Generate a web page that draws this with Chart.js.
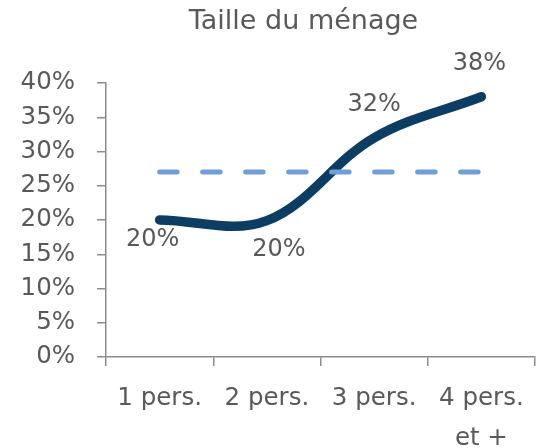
<!DOCTYPE html>
<html lang="fr">
<head>
<meta charset="utf-8">
<title>Taille du ménage</title>
<script src="https://cdn.jsdelivr.net/npm/chart.js@4.4.1/dist/chart.umd.min.js"></script>
<style>
  html, body { margin: 0; padding: 0; background: #ffffff; }
  #wrap { position: relative; width: 538px; height: 448px; }
</style>
</head>
<body>
<div id="wrap"><canvas id="sizeChart"></canvas></div>
<script>
// ─── Data ──────────────────────────────────────────────────────────────────────
const categories   = ["1 pers.", "2 pers.", "3 pers.", ["4 pers.", "et +"]];
const shareValues  = [20.0, 19.9, 32.0, 38.0];
const averageValue = [27, 27, 27, 27];
const yTicks       = { min: 0, max: 40, step: 5 };
const chartTitle   = "Taille du ménage";

// ─── Style ─────────────────────────────────────────────────────────────────────
const FONT      = "'DejaVu Sans', sans-serif";
const TEXT      = "#595959";
const AXIS      = "#8c8c8c";
const NAVY      = "#0c3e64";
const DASH_BLUE = "#719dd8";

// label offsets from each point (dx, dy), as placed in the original
const labelOffsets = [[-7, 20], [12, 29], [0, -33], [-2, -33]];

const pointLabels = {
  id: "pointLabels",
  afterDatasetsDraw(chart) {
    const meta = chart.getDatasetMeta(1);
    const { ctx } = chart;
    ctx.save();
    ctx.font = "24px " + FONT;
    ctx.fillStyle = TEXT;
    ctx.textAlign = "center";
    ctx.textBaseline = "middle";
    meta.data.forEach((pt, i) => {
      const [dx, dy] = labelOffsets[i];
      ctx.fillText(Math.round(shareValues[i]) + "%", pt.x + dx, pt.y + dy);
    });
    ctx.restore();
  }
};

// title sits a little left of the plot centre in the original
const offsetTitle = {
  id: "offsetTitle",
  afterDraw(chart) {
    const { ctx, chartArea } = chart;
    ctx.save();
    ctx.font = "27px " + FONT;
    ctx.fillStyle = TEXT;
    ctx.textAlign = "center";
    ctx.textBaseline = "middle";
    ctx.fillText(chartTitle, (chartArea.left + chartArea.right) / 2 - 17, 22);
    ctx.restore();
  }
};

new Chart(document.getElementById("sizeChart"), {
  type: "line",
  data: {
    labels: categories,
    datasets: [
      {
        label: "Moyenne",
        data: averageValue,
        borderColor: DASH_BLUE,
        borderWidth: 5,
        borderDash: [17.5, 25.5],
        borderCapStyle: "round",
        pointRadius: 0,
        tension: 0,
        fill: false,
        order: 0,
      },
      {
        label: "Taille du ménage",
        data: shareValues,
        borderColor: NAVY,
        borderWidth: 9.5,
        borderCapStyle: "round",
        borderJoinStyle: "round",
        pointRadius: 0,
        tension: 0.36,
        fill: false,
        order: 1,
      }
    ]
  },
  options: {
    responsive: true,
    maintainAspectRatio: false,
    animation: false,
    layout: { padding: { left: 0, right: 3, top: 83, bottom: 0 } },
    plugins: {
      legend: { display: false },
      tooltip: { enabled: false },
      title: { display: false }
    },
    scales: {
      x: {
        offset: true,
        grid: { offset: true, drawOnChartArea: false, tickLength: 9, color: AXIS, lineWidth: 1.5 },
        border: { color: AXIS, width: 1.5 },
        ticks: { color: TEXT, padding: 12, maxRotation: 0, autoSkip: false,
                 font: { family: FONT, size: 24.5, lineHeight: 1.65 } },
        afterFit: s => { s.height = 91; }
      },
      y: {
        min: yTicks.min,
        max: yTicks.max,
        grid: { drawOnChartArea: false, tickLength: 9, color: AXIS, lineWidth: 1.5 },
        border: { color: AXIS, width: 1.5 },
        ticks: { stepSize: yTicks.step, color: TEXT, padding: 22,
                 font: { family: FONT, size: 24.5 },
                 callback: v => v + "%" },
        afterFit: s => { s.width = 106; }
      }
    }
  },
  plugins: [pointLabels, offsetTitle]
});
</script>
</body>
</html>
